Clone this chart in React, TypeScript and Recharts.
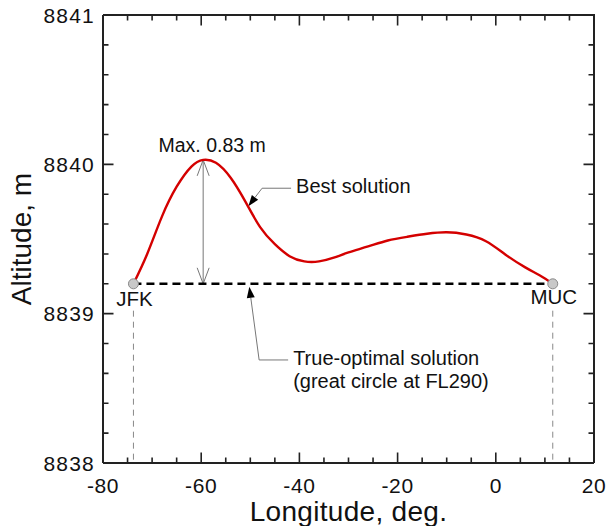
import React from 'react';
import { LineChart, Line, XAxis, YAxis, ReferenceLine, ReferenceDot } from 'recharts';

// altitude profile of the best solution (longitude, deg / altitude, m)
const lonPts = [-73.8, -71, -68, -65, -62, -59.6, -57, -54, -51, -48, -45, -42, -39, -36, -33, -30, -26, -22, -18, -14, -10, -6, -2, 2, 6, 9, 11.6];
const altPts = [8839.2, 8839.4, 8839.65, 8839.85, 8839.985, 8840.03, 8840.01, 8839.91, 8839.75, 8839.58, 8839.465, 8839.385, 8839.35, 8839.35, 8839.375, 8839.41, 8839.45, 8839.49, 8839.515, 8839.535, 8839.545, 8839.53, 8839.485, 8839.395, 8839.31, 8839.255, 8839.2];

// true-optimal (great circle at FL290)
const airportNames = ['JFK', 'MUC'];
const airportLon = [-73.8, 11.6];
const greatCircleAlt = 8839.2;

// max deviation
const peakLon = -59.6;
const peakAlt = 8840.03;

// leader anchors [tip, knee]
const bestLeader = [{ x: -50.4, y: 8839.72 }, { x: -47.6, y: 8839.84 }];
const trueLeader = [{ x: -50.2, y: 8839.18 }, { x: -48.2, y: 8838.69 }];

const xMin = -80;
const xMax = 20;
const yMin = 8838;
const yMax = 8841;
const xTicks = [-80, -75, -70, -65, -60, -55, -50, -45, -40, -35, -30, -25, -20, -15, -10, -5, 0, 5, 10, 15, 20];
const yTicks = [8838, 8838.2, 8838.4, 8838.6, 8838.8, 8839, 8839.2, 8839.4, 8839.6, 8839.8, 8840, 8840.2, 8840.4, 8840.6, 8840.8, 8841];

const curve = lonPts.map((lon, i) => ({ lon, alt: altPts[i] }));
const baseData = airportLon.map((lon) => ({ lon, alt: greatCircleAlt }));

const FONT = '"Liberation Sans", Arial, sans-serif';
const INK = '#111';
const AXIS = '#222';

const isMajorX = (v: number) => v % 20 === 0;
const isMajorY = (v: number) => Math.abs(v - Math.round(v)) < 1e-6;

const XLabel = (props: any) => {
  const { x, y, payload } = props;
  const v = payload.value;
  if (!isMajorX(v)) return <g />;
  return (
    <text x={x} y={y + 22} textAnchor="middle" dominantBaseline="central" fontSize={21} fontFamily={FONT} fill={INK} letterSpacing={0.6}>
      {v}
    </text>
  );
};

const YLabel = (props: any) => {
  const { x, y, payload } = props;
  const v = payload.value;
  if (!isMajorY(v)) return <g />;
  return (
    <text x={x - 8} y={y} textAnchor="end" dominantBaseline="central" fontSize={21} fontFamily={FONT} fill={INK} letterSpacing={1.2}>
      {Math.round(v)}
    </text>
  );
};

// box frame with inward ticks, mapped from two known points of the chart scales
const renderFrame = (a: any, b: any, pa: any, pb: any) => {
  const kx = (pb.x - pa.x) / (b.x - a.x);
  const ky = (pb.y - pa.y) / (b.y - a.y);
  const X = (v: number) => pa.x + (v - a.x) * kx;
  const Y = (v: number) => pa.y + (v - a.y) * ky;
  const left = X(xMin);
  const right = X(xMax);
  const top = Y(yMax);
  const bot = Y(yMin);
  const marks: string[] = [];
  xTicks.forEach((v) => {
    const len = isMajorX(v) ? 10.5 : 5.5;
    const x = X(v);
    marks.push(`M${x},${bot}V${bot - len}M${x},${top}V${top + len}`);
  });
  yTicks.forEach((v) => {
    const len = isMajorY(v) ? 10.5 : 5.5;
    const y = Y(v);
    marks.push(`M${left},${y}H${left + len}M${right},${y}H${right - len}`);
  });
  return (
    <g>
      <path d={`M${left},${top}H${right}V${bot}`} fill="none" stroke={AXIS} strokeWidth={2} />
      <path d={marks.join('')} fill="none" stroke={AXIS} strokeWidth={1.6} />
    </g>
  );
};

const MaxArrow = (p: any) => {
  const { x1, y1, y2 } = p;
  const top = Math.min(y1, y2);
  const bot = Math.max(y1, y2);
  const x = x1;
  return (
    <g>
      <line x1={x} x2={x} y1={top} y2={bot} stroke="#777" strokeWidth={1} />
      <polyline points={`${x - 6},${top + 16} ${x},${top} ${x + 6},${top + 16}`} fill="none" stroke="#777" strokeWidth={1} />
      <polyline points={`${x - 6},${bot - 16} ${x},${bot} ${x + 6},${bot - 16}`} fill="none" stroke="#777" strokeWidth={1} />
      <text x={x + 9} y={top - 15} textAnchor="middle" dominantBaseline="central" fontSize={19.5} fontFamily={FONT} fill={INK}>
        Max. 0.83 m
      </text>
    </g>
  );
};

const makeLeader = (lines: string[], seg: any[] | null) => (p: any) => {
  const { x1, y1, x2, y2 } = p;
  const dx = x1 - x2;
  const dy = y1 - y2;
  const d = Math.sqrt(dx * dx + dy * dy);
  const ux = dx / d;
  const uy = dy / d;
  const L = 11;
  const W = 4;
  const bx = x1 - ux * L;
  const by = y1 - uy * L;
  const head = `${x1},${y1} ${bx - uy * W},${by + ux * W} ${bx + uy * W},${by - ux * W}`;
  const endX = x2 + 29;
  return (
    <g>
      {seg && renderFrame(seg[0], seg[1], { x: x1, y: y1 }, { x: x2, y: y2 })}
      <polyline points={`${bx},${by} ${x2},${y2} ${endX},${y2}`} fill="none" stroke="#777" strokeWidth={1} />
      <polygon points={head} fill="#000" />
      {lines.map((t, i) => (
        <text key={t} x={endX + 5} y={y2 - 2 + i * 23} dominantBaseline="central" fontSize={20} fontFamily={FONT} fill={INK}>
          {t}
        </text>
      ))}
    </g>
  );
};

const BestLeader = makeLeader(['Best solution'], null);
const TrueLeader = makeLeader(['True-optimal solution', '(great circle at FL290)'], trueLeader);

const Airport = (name: string, dy: number) => (p: any) => {
  const { cx, cy } = p;
  return (
    <g>
      <circle cx={cx} cy={cy} r={5} fill="#c8c8c8" stroke="#8a8a8a" strokeWidth={1} />
      <text x={cx + 1} y={cy + dy} textAnchor="middle" dominantBaseline="central" fontSize={20.5} fontFamily={FONT} fill={INK}>
        {name}
      </text>
    </g>
  );
};

const XTitle = (p: any) => {
  const vb = p.viewBox;
  return (
    <text x={vb.x + vb.width / 2} y={vb.y + 48} textAnchor="middle" dominantBaseline="central" fontSize={28} fontFamily={FONT} fill={INK} letterSpacing={0.3}>
      Longitude, deg.
    </text>
  );
};

const YTitle = (p: any) => {
  const vb = p.viewBox;
  const cx = 21;
  const cy = vb.y + vb.height / 2;
  return (
    <text x={cx} y={cy} transform={`rotate(-90 ${cx} ${cy})`} textAnchor="middle" dominantBaseline="central" fontSize={28} fontFamily={FONT} fill={INK}>
      Altitude, m
    </text>
  );
};

export default function App() {
  return (
    <div style={{ position: 'absolute', left: 0, top: 0, background: '#fff', fontFamily: FONT }}>
      <LineChart width={608} height={526} data={curve} margin={{ top: 15, right: 14, bottom: 0, left: 0 }}>
        <XAxis
          type="number"
          dataKey="lon"
          domain={[xMin, xMax]}
          ticks={xTicks}
          interval={0}
          height={63}
          tickSize={0}
          tickMargin={0}
          tickLine={false}
          axisLine={{ stroke: AXIS, strokeWidth: 2 }}
          tick={<XLabel />}
          label={{ content: <XTitle /> }}
        />
        <YAxis
          type="number"
          domain={[yMin, yMax]}
          ticks={yTicks}
          interval={0}
          width={103}
          tickSize={0}
          tickMargin={0}
          tickLine={false}
          axisLine={{ stroke: AXIS, strokeWidth: 2 }}
          tick={<YLabel />}
          label={{ content: <YTitle /> }}
        />

        {airportLon.map((lon) => (
          <ReferenceLine
            key={`v${lon}`}
            segment={[{ x: lon, y: 8839.02 }, { x: lon, y: yMin }]}
            stroke="#888"
            strokeWidth={1}
            strokeDasharray="6 5"
          />
        ))}

        <ReferenceLine segment={[{ x: peakLon, y: greatCircleAlt }, { x: peakLon, y: peakAlt }]} shape={<MaxArrow />} />
        <ReferenceLine segment={bestLeader} shape={<BestLeader />} />
        <ReferenceLine segment={trueLeader} shape={<TrueLeader />} />

        <Line
          data={baseData}
          type="linear"
          dataKey="alt"
          stroke="#000"
          strokeWidth={2.5}
          strokeDasharray="8 5"
          dot={false}
          activeDot={false}
          isAnimationActive={false}
        />
        <Line type="natural" dataKey="alt" stroke="#d40000" strokeWidth={2.4} dot={false} activeDot={false} isAnimationActive={false} />

        {airportLon.map((lon, i) => (
          <ReferenceDot key={airportNames[i]} x={lon} y={greatCircleAlt} r={5} shape={Airport(airportNames[i], i === 0 ? 15 : 13)} />
        ))}
      </LineChart>
    </div>
  );
}
